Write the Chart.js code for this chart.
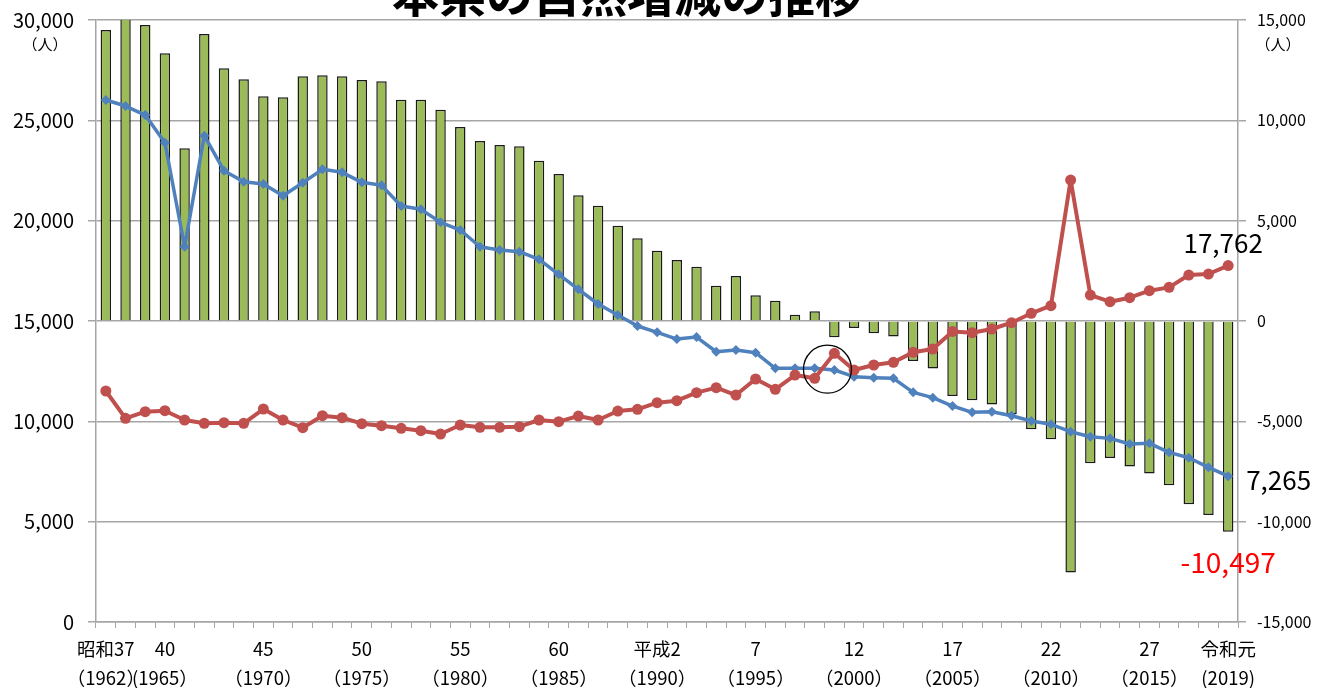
<!DOCTYPE html>
<html>
<head>
<meta charset="utf-8">
<script src="https://cdn.jsdelivr.net/npm/chart.js@4.4.0/dist/chart.umd.min.js"></script>
<style>
  html, body { margin: 0; padding: 0; background: #fff; }
</style>
</head>
<body>
<canvas id="chart" width="1317" height="688"></canvas>
<script>
const years = [1962, 1963, 1964, 1965, 1966, 1967, 1968, 1969, 1970, 1971,
  1972, 1973, 1974, 1975, 1976, 1977, 1978, 1979, 1980, 1981,
  1982, 1983, 1984, 1985, 1986, 1987, 1988, 1989, 1990, 1991,
  1992, 1993, 1994, 1995, 1996, 1997, 1998, 1999, 2000, 2001,
  2002, 2003, 2004, 2005, 2006, 2007, 2008, 2009, 2010, 2011,
  2012, 2013, 2014, 2015, 2016, 2017, 2018, 2019];

// 出生数 (left axis)
const births = [26011, 25712, 25264, 23884, 18701, 24233, 22489, 21941, 21826, 21243,
  21891, 22558, 22408, 21910, 21760, 20729, 20564, 19917, 19534, 18701,
  18537, 18453, 18074, 17326, 16579, 15846, 15298, 14750, 14435, 14100,
  14200, 13469, 13554, 13420, 12642, 12640, 12645, 12557, 12224, 12174,
  12143, 11445, 11179, 10763, 10449, 10480, 10280, 10016, 9850, 9483,
  9234, 9151, 8869, 8902, 8454, 8187, 7708, 7265];

// 死亡数 (left axis)
const deaths = [11511, 10150, 10480, 10530, 10066, 9900, 9933, 9900, 10614, 10066,
  9684, 10280, 10181, 9883, 9783, 9650, 9533, 9368, 9817, 9700,
  9700, 9733, 10066, 9983, 10265, 10066, 10514, 10598, 10929, 11030,
  11428, 11677, 11312, 12109, 11595, 12308, 12143, 13388, 12557, 12807,
  12940, 13438, 13604, 14480, 14416, 14600, 14915, 15383, 15765, 22025,
  16294, 15962, 16162, 16511, 16677, 17291, 17341, 17762];

// 自然増減 (right axis)
const natural = [14500, 15560, 14750, 13340, 8605, 14300, 12590, 12045, 11197, 11147,
  12193, 12243, 12193, 12009, 11944, 11027, 11027, 10529, 9667, 8969,
  8770, 8704, 7989, 7325, 6262, 5747, 4750, 4119, 3505, 3040,
  2707, 1760, 2242, 1279, 1013, 316, 482, -814, -349, -615,
  -777, -1993, -2372, -3737, -3952, -4166, -4650, -5397, -5895, -12538,
  -7091, -6827, -7255, -7604, -8187, -9134, -9667, -10497];

// x axis labels: year -> [和暦, 西暦]
const tickYears = [1962, 1965, 1970, 1975, 1980, 1985, 1990, 1995, 2000, 2005, 2010, 2015, 2019];
const tickLines = [
  ["昭和37", "（1962）"], ["40", "(1965）"], ["45", "（1970）"], ["50", "（1975）"],
  ["55", "（1980）"], ["60", "（1985）"], ["平成2", "（1990）"], ["7", "（1995）"],
  ["12", "（2000）"], ["17", "（2005）"], ["22", "（2010）"], ["27", "（2015）"],
  ["令和元", "(2019)"]
];

const leftTicks = [0, 5000, 10000, 15000, 20000, 25000, 30000];
const rightTicks = [-15000, -10000, -5000, 0, 5000, 10000, 15000];

// circled spot (between H10 and H11)
const circleSpot = { index: 36.65, value: 12600 };

const FONT = "'Noto Sans CJK JP', 'Noto Sans', sans-serif";
const GRID = "#a6a6a6";

const fmt = v => v.toLocaleString("en-US");

const extras = {
  id: "extras",
  afterDatasetsDraw(chart) {
    const ctx = chart.ctx;
    const x = chart.scales.x, yL = chart.scales.yL;
    ctx.save();
    // circle
    ctx.beginPath();
    ctx.arc(x.getPixelForValue(circleSpot.index), yL.getPixelForValue(circleSpot.value), 24, 0, Math.PI * 2);
    ctx.strokeStyle = "#000";
    ctx.lineWidth = 1.3;
    ctx.stroke();

    const last = years.length - 1;
    const pD = chart.getDatasetMeta(1).data[last];
    const pB = chart.getDatasetMeta(2).data[last];
    const pN = chart.getDatasetMeta(0).data[last];
    ctx.font = "26px " + FONT;
    ctx.textBaseline = "middle";
    ctx.fillStyle = "#000";
    ctx.textAlign = "center";
    ctx.fillText(fmt(deaths[last]), pD.x - 5, pD.y - 22);
    ctx.textAlign = "left";
    ctx.fillText(fmt(births[last]), pB.x + 18, pB.y + 4);
    ctx.textAlign = "center";
    ctx.fillStyle = "#ff0000";
    ctx.font = "28px " + FONT;
    ctx.fillText(fmt(natural[last]), pN.x, pN.y + 31);
    ctx.restore();
  },
  afterDraw(chart) {
    const ctx = chart.ctx;
    const yL = chart.scales.yL;
    ctx.save();
    ctx.fillStyle = "#000";
    ctx.textAlign = "center";
    ctx.textBaseline = "alphabetic";
    ctx.font = "bold 47px " + FONT;
    ctx.fillText("本県の自然増減の推移", 627, 12);
    ctx.font = "15px " + FONT;
    ctx.textBaseline = "middle";
    const uy = yL.getPixelForValue(30000) + 24;
    ctx.fillText("（人）", 45, uy);
    ctx.fillText("（人）", 1278, uy);
    ctx.restore();
  }
};

const fitY = w => s => {
  s.width = w;
  s.paddingTop = 0;
  s.paddingBottom = 0;
};

new Chart(document.getElementById("chart"), {
  data: {
    labels: years,
    datasets: [
      {
        type: "bar",
        label: "自然増減",
        data: natural,
        yAxisID: "yR",
        backgroundColor: "#9bbb59",
        borderColor: "#1a1a1a",
        borderWidth: 1.5,
        barPercentage: 0.53,
        categoryPercentage: 1,
        order: 3
      },
      {
        type: "line",
        label: "死亡数",
        data: deaths,
        yAxisID: "yL",
        borderColor: "#c0504d",
        backgroundColor: "#c0504d",
        borderWidth: 4,
        borderJoinStyle: "round",
        pointStyle: "circle",
        pointRadius: 5.5,
        pointBorderWidth: 0,
        tension: 0,
        order: 1
      },
      {
        type: "line",
        label: "出生数",
        data: births,
        yAxisID: "yL",
        borderColor: "#4f81bd",
        backgroundColor: "#4f81bd",
        borderWidth: 3.5,
        borderJoinStyle: "round",
        pointStyle: "rectRot",
        pointRadius: 5,
        pointBorderWidth: 0,
        tension: 0,
        order: 2
      }
    ]
  },
  options: {
    responsive: false,
    animation: false,
    layout: { padding: { top: 20, left: 0, right: 0, bottom: 0 } },
    plugins: {
      legend: { display: false },
      title: { display: false },
      tooltip: { enabled: false }
    },
    scales: {
      x: {
        type: "category",
        offset: true,
        grid: {
          offset: true,
          drawOnChartArea: false,
          drawTicks: true,
          tickLength: 6,
          color: GRID,
          lineWidth: 1
        },
        border: { display: true, color: GRID, width: 1.5 },
        ticks: {
          autoSkip: false,
          maxRotation: 0,
          padding: 7,
          color: "#000",
          font: { family: FONT, size: 18.5, lineHeight: 1.55 },
          callback: (v, i) => {
            const k = tickYears.indexOf(years[i]);
            return k >= 0 ? tickLines[k] : "";
          }
        },
        afterFit: s => { s.height = 66; s.paddingLeft = 0; s.paddingRight = 0; }
      },
      yL: {
        type: "linear",
        position: "left",
        min: 0,
        max: 30000,
        afterBuildTicks: s => { s.ticks = leftTicks.map(v => ({ value: v })); },
        grid: { color: GRID, lineWidth: 1.5, tickLength: 8 },
        border: { display: true, color: GRID, width: 1.5 },
        ticks: {
          padding: 14,
          color: "#000",
          font: { family: FONT, size: 20 },
          callback: v => fmt(v)
        },
        afterFit: fitY(96)
      },
      yR: {
        type: "linear",
        position: "right",
        min: -15000,
        max: 15000,
        afterBuildTicks: s => { s.ticks = rightTicks.map(v => ({ value: v })); },
        grid: { drawOnChartArea: false, color: GRID, lineWidth: 1.5, tickLength: 8 },
        border: { display: true, color: GRID, width: 1.5 },
        ticks: {
          padding: 11,
          color: "#000",
          font: { family: FONT, size: 16 },
          callback: v => fmt(v)
        },
        afterFit: fitY(79)
      }
    }
  },
  plugins: [extras]
});
</script>
</body>
</html>
